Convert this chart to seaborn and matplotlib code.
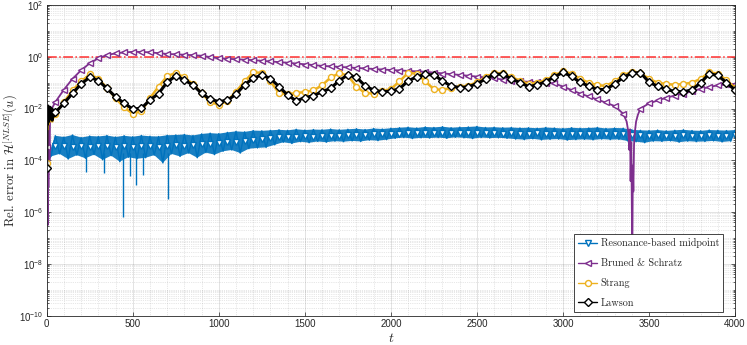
import numpy as np
import matplotlib
matplotlib.use("Agg")
import matplotlib.pyplot as plt
from matplotlib.lines import Line2D
from matplotlib.ticker import LogLocator, MultipleLocator, NullFormatter
import seaborn as sns

# ---- data (values are log10 of the relative error) ----
t_mark = np.arange(0, 4001, 50)      # marker grid
t_blue = np.arange(0, 4001, 25)      # blue line grid (hi / lo alternating)
t_early = [0, 2, 5, 8, 11, 14, 17, 20, 24, 28, 32, 36, 40, 44, 50]

# Resonance-based midpoint
blue_mark = [-3.95,
             -3.46, -3.44, -3.48, -3.45, -3.47, -3.43, -3.46, -3.48, -3.45, -3.47, -3.44, -3.46,
             -3.50, -3.45, -3.42, -3.44, -3.40, -3.38, -3.35, -3.33,
             -3.30, -3.28, -3.24, -3.20, -3.18, -3.14,
             -3.10, -3.10, -3.08, -3.07, -3.08, -3.06, -3.05, -3.05, -3.03, -3.04, -3.02, -3.00, -3.00, -2.98,
             -2.97, -2.96, -2.95, -2.95, -2.93, -2.95, -2.94, -2.96, -2.95, -2.94, -2.96, -2.95, -2.97, -2.96,
             -2.97, -2.98, -2.96, -2.98, -2.97, -2.99, -2.98, -2.97, -2.99, -2.98, -3.00, -2.98, -2.99,
             -3.02, -3.04, -3.05, -3.03, -3.06, -3.05, -3.04, -3.06, -3.05, -3.04, -3.05, -3.06, -3.04]
blue_hi = [-3.98,
           -3.05, -3.10, -3.02, -3.12, -3.06, -3.08, -3.04, -3.10, -3.05, -3.09, -3.04, -3.07,
           -3.08, -3.03, -3.02, -3.00, -3.04, -2.98, -2.95, -2.97,
           -2.92, -2.88, -2.90, -2.85, -2.86, -2.84,
           -2.82, -2.84, -2.80, -2.83, -2.81, -2.82, -2.79, -2.82, -2.80, -2.78, -2.81, -2.77, -2.79, -2.76,
           -2.74, -2.72, -2.75, -2.71, -2.73, -2.70, -2.74, -2.72, -2.71, -2.69, -2.73, -2.72, -2.74, -2.73,
           -2.75, -2.74, -2.76, -2.73, -2.75, -2.77, -2.74, -2.76, -2.75, -2.73, -2.77, -2.75, -2.76,
           -2.82, -2.84, -2.85, -2.83, -2.86, -2.84, -2.82, -2.85, -2.86, -2.83, -2.84, -2.85, -2.83]
blue_lo = [-3.85, -3.75, -3.95, -3.80, -3.92, -3.78, -3.98, -3.82, -4.05, -3.88, -3.94, -3.90,
           -3.80, -4.10, -3.75, -3.85, -3.72, -3.90, -3.70, -3.78,
           -3.65, -3.60, -3.72, -3.55, -3.52, -3.50,
           -3.40, -3.30, -3.35, -3.28, -3.32, -3.27, -3.30, -3.26, -3.28, -3.25, -3.27, -3.22, -3.24, -3.20,
           -3.15, -3.12, -3.16, -3.13, -3.14, -3.12, -3.15, -3.11, -3.13, -3.16, -3.12, -3.14, -3.13, -3.15,
           -3.18, -3.20, -3.17, -3.21, -3.19, -3.18, -3.22, -3.20, -3.19, -3.21, -3.18, -3.20, -3.19,
           -3.25, -3.28, -3.32, -3.26, -3.27, -3.25, -3.30, -3.26, -3.28, -3.27, -3.25, -3.29, -3.26]
# isolated downward spikes of the blue curve
spike_t = [227, 333, 444, 484, 519, 560, 703]
spike_top = [-3.7, -3.7, -3.7, -3.7, -3.7, -3.7, -3.7]
spike_bottom = [-4.44, -4.50, -6.19, -4.60, -4.96, -4.55, -5.48]

# Bruned & Schratz
purple_mark = [-3.50, -1.75, -1.27, -0.85, -0.52, -0.25, -0.06, 0.07, 0.13, 0.17,
               0.19, 0.19, 0.17, 0.13, 0.11, 0.09, 0.08, 0.07, 0.04, 0.00,
               -0.06, -0.08, -0.10, -0.12, -0.13, -0.15, -0.17, -0.19, -0.23, -0.27,
               -0.31, -0.33, -0.35, -0.36, -0.38, -0.40, -0.43, -0.45, -0.48, -0.50,
               -0.51, -0.53, -0.55, -0.57, -0.58, -0.62, -0.65, -0.68, -0.70, -0.73,
               -0.77, -0.80, -0.83, -0.88, -0.93, -0.95, -0.97, -0.98, -1.00, -1.03,
               -1.15, -1.28, -1.42, -1.53, -1.65, -1.76, -1.90, -2.20, np.nan, -2.00,
               -1.80, -1.68, -1.58, -1.50, -1.42, -1.32, -1.24, -1.17, -1.10, -1.04,
               -1.05]
t_purple = [0, 2, 4, 6, 8, 10, 13, 16, 20, 30,
            50, 100, 150, 200, 250, 300, 350, 400, 450, 500,
            550, 600, 700, 800, 900, 1000, 1200, 1400, 1600, 1800,
            2000, 2200, 2400, 2600, 2700, 2900, 2950, 3000, 3100, 3200,
            3300, 3350, 3370, 3380, 3386, 3390, 3393, 3397, 3400, 3403,
            3406, 3409, 3413, 3418, 3425, 3435, 3450, 3500, 3600, 3700,
            3800, 3900, 4000]
purple_line = [-3.5, -5.5, -3.0, -6.5, -2.6, -5.0, -2.4, -4.0, -2.2, -2.0,
               -1.75, -1.27, -0.85, -0.52, -0.25, -0.06, 0.07, 0.13, 0.17, 0.19,
               0.19, 0.17, 0.11, 0.08, 0.04, -0.06, -0.13, -0.23, -0.35, -0.43,
               -0.51, -0.58, -0.70, -0.83, -0.93, -1.00, -1.03, -1.15, -1.42, -1.65,
               -1.90, -2.20, -2.5, -2.9, -3.6, -2.8, -4.8, -3.3, -5.6, -7.9,
               -4.2, -5.2, -3.4, -2.9, -2.5, -2.25, -2.0, -1.8, -1.58, -1.42,
               -1.24, -1.10, -1.05]

# Strang
yellow_mark = [-4.10, -2.20, -1.75, -1.30, -0.95, -0.68, -0.85, -1.20, -1.60, -1.95,
               -2.20, -2.10, -1.60, -1.15, -0.75, -0.62, -0.80, -1.05, -1.40, -1.75,
               -1.85, -1.70, -1.35, -0.95, -0.60, -0.62, -0.95, -1.40, -1.45, -1.40,
               -1.36, -1.30, -1.10, -0.80, -0.64, -0.72, -1.15, -1.40, -1.42, -1.32,
               -1.25, -0.95, -0.62, -0.65, -0.95, -1.25, -1.28, -1.20, -1.15, -1.12,
               -0.98, -0.80, -0.62, -0.64, -0.78, -0.92, -1.05, -1.00, -0.90, -0.72,
               -0.56, -0.65, -0.85, -1.00, -1.10, -1.12, -0.95, -0.72, -0.58, -0.62,
               -0.85, -1.00, -1.05, -1.08, -1.05, -1.00, -0.85, -0.60, -0.65, -0.90,
               -1.20]
yellow_early = [-4.1, -2.3, -2.8, -2.1, -2.6, -2.2, -2.5, -2.1, -2.4, -2.2, -2.5, -2.2, -2.35, -2.25, -2.2]

# Lawson
black_mark = [-4.30, -2.15, -1.80, -1.41, -1.05, -0.79, -0.92, -1.22, -1.55, -1.79,
              -2.02, -1.99, -1.67, -1.42, -0.98, -0.74, -0.90, -1.09, -1.41, -1.64,
              -1.73, -1.68, -1.45, -1.08, -0.83, -0.70, -0.84, -1.15, -1.48, -1.70,
              -1.58, -1.50, -1.35, -1.22, -0.92, -0.70, -0.79, -1.12, -1.29, -1.35,
              -1.33, -1.24, -0.93, -0.78, -0.68, -0.70, -0.93, -1.13, -1.19, -1.16,
              -1.04, -0.86, -0.68, -0.67, -0.85, -1.00, -1.15, -1.09, -0.96, -0.78,
              -0.60, -0.76, -0.99, -1.13, -1.27, -1.26, -1.05, -0.80, -0.63, -0.61,
              -0.98, -1.14, -1.26, -1.34, -1.35, -1.28, -1.00, -0.66, -0.72, -1.00,
              -1.28]
black_early = [-4.3, -2.0, -2.6, -1.9, -2.5, -2.0, -2.4, -1.95, -2.35, -2.0, -2.45, -2.05, -2.3, -2.1, -2.15]

threshold = 1.0

labels = ['Resonance-based midpoint', 'Bruned & Schratz', 'Strang', 'Lawson']
colors = ['#0072BD', '#7E2F8E', '#EDB120', '#000000']
markers = ['v', '<', 'o', 'D']

# ---- assemble line series ----
blue_line = np.empty(len(t_blue))
blue_line[0::2] = blue_hi
blue_line[1::2] = blue_lo
t_line = np.concatenate([t_early, t_mark[2:]])
yellow_line = np.concatenate([yellow_early, yellow_mark[2:]])
black_line = np.concatenate([black_early, black_mark[2:]])

series = [
    (t_blue, blue_line, blue_mark, 1.0),
    (np.array(t_purple), np.array(purple_line), purple_mark, 1.3),
    (t_line, yellow_line, yellow_mark, 1.8),
    (t_line, black_line, black_mark, 2.2),
]

# ---- style ----
sns.set_style("ticks")
plt.rcParams['font.family'] = ['Liberation Sans', 'DejaVu Sans']
plt.rcParams['mathtext.fontset'] = 'cm'
axcol = '#262626'

fig, ax = plt.subplots(figsize=(7.47, 3.45), dpi=100)
fig.subplots_adjust(left=0.0625, right=0.984, bottom=0.085, top=0.9855)
ax.set_yscale('log')

ax.axhline(threshold, color='#ff3030', ls='-.', lw=1.1, zorder=1.5)

# dense oscillation band of the blue curve
t_lo = t_blue[1::2]
ax.fill(np.concatenate([t_mark, t_lo[::-1]]),
        10.0 ** np.concatenate([blue_hi, blue_lo[::-1]]),
        color=colors[0], lw=0, alpha=0.9, zorder=2)
ax.vlines(spike_t, 10.0 ** np.array(spike_top), 10.0 ** np.array(spike_bottom),
          color=colors[0], lw=1.0, zorder=2)

for (tl, yl, ym, lw), c, m in zip(series, colors, markers):
    sns.lineplot(x=tl, y=10.0 ** np.asarray(yl), ax=ax, color=c, lw=lw,
                 estimator=None, sort=False, legend=False)
    sns.lineplot(x=t_mark, y=10.0 ** np.asarray(ym, dtype=float), ax=ax,
                 linestyle='none', marker=m, markersize=4.3 if m != 'D' else 3.8,
                 markerfacecolor='white', markeredgecolor=c, markeredgewidth=1.0,
                 estimator=None, sort=False, legend=False)

ax.set_xlim(0, 4000)
ax.set_ylim(1e-10, 1e2)
ax.set_yticks([1e-10, 1e-8, 1e-6, 1e-4, 1e-2, 1e0, 1e2])
ax.yaxis.set_minor_locator(LogLocator(base=10, subs=np.arange(1, 10), numticks=100))
ax.yaxis.set_minor_formatter(NullFormatter())
ax.xaxis.set_major_locator(MultipleLocator(500))
ax.xaxis.set_minor_locator(MultipleLocator(100))

ax.grid(which='major', color=axcol, alpha=0.15, lw=0.6, ls='-')
ax.grid(which='minor', color=axcol, alpha=0.22, lw=0.5, ls=':')
ax.set_axisbelow(True)
ax.tick_params(which='both', direction='in', top=True, right=True,
               color=axcol, labelcolor=axcol, width=0.5, labelsize=7, pad=2.5)
ax.tick_params(which='major', length=3)
ax.tick_params(which='minor', length=1.5)
ax.tick_params(axis='x', which='minor', length=0)
for s in ax.spines.values():
    s.set_color(axcol)
    s.set_linewidth(0.6)

ax.set_xlabel('$t$', fontsize=10, color=axcol, labelpad=1.5)
ax.set_ylabel(r'Rel. error in $\mathcal{H}^{[NLSE]}(u)$', fontsize=9.2,
              family='cmr10', color=axcol)
ax.yaxis.set_label_coords(-0.039, 0.5)

handles = [Line2D([], [], color=c, lw=1.0, marker=m, markersize=4.3 if m != 'D' else 3.8,
                  markerfacecolor='white', markeredgecolor=c, markeredgewidth=1.0)
           for c, m in zip(colors, markers)]
leg = ax.legend(handles, labels, loc='lower right', bbox_to_anchor=(0.9826, 0.012),
                borderaxespad=0, prop={'family': 'cmr10', 'size': 7.3},
                frameon=True, fancybox=False, handlelength=1.9, handletextpad=0.3,
                labelspacing=1.0, borderpad=0.4)
leg.get_frame().set_edgecolor(axcol)
leg.get_frame().set_linewidth(0.6)
leg.get_frame().set_alpha(1.0)

fig.savefig('out.png', dpi=100)
